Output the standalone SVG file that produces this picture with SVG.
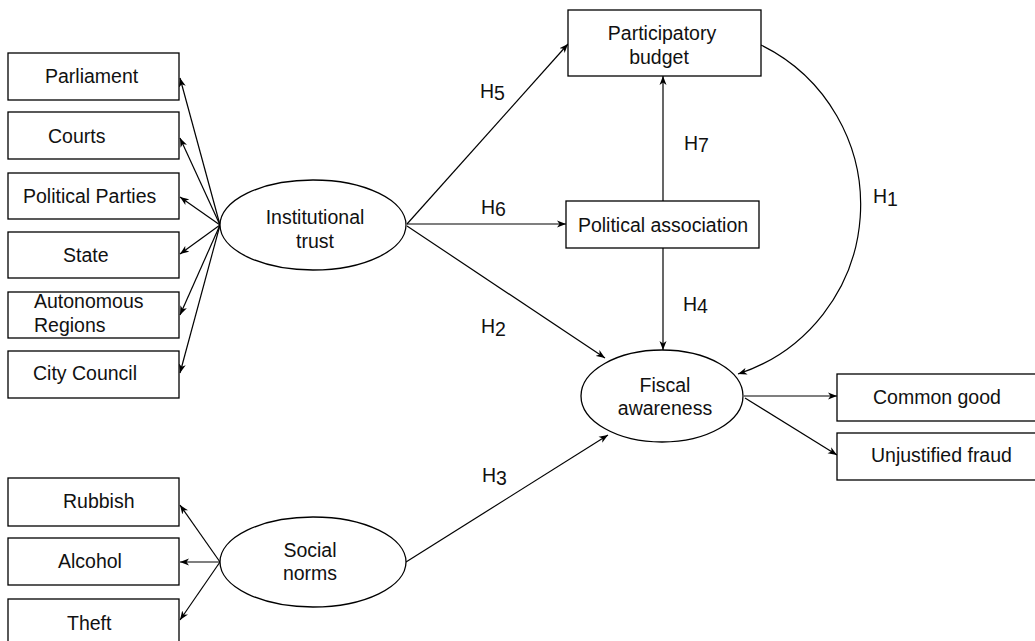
<svg xmlns="http://www.w3.org/2000/svg" width="1035" height="641" viewBox="0 0 1035 641">
<style>
  .box{fill:#fff;stroke:#000;stroke-width:1.3}
  .ell{fill:#fff;stroke:#000;stroke-width:1.3}
  .t{font-family:"Liberation Sans",Arial,Helvetica,sans-serif;font-size:19.5px;fill:#111}
  .c{text-anchor:middle}
  .e{fill:none;stroke:#000;stroke-width:1.2;marker-end:url(#arr)}
</style>
<defs>
  <marker id="arr" markerUnits="userSpaceOnUse" markerWidth="10" markerHeight="8" viewBox="0 0 10 8" refX="9" refY="4" orient="auto">
    <path d="M0,0.5 L9,4 L0,7.5 L2.5,4 z" fill="#000"/>
  </marker>
</defs>
<rect width="1035" height="641" fill="#fff"/>
<g id="connectors">
  <line class="e" x1="220" y1="225" x2="180" y2="78"/>
  <line class="e" x1="220" y1="225" x2="180" y2="138"/>
  <line class="e" x1="220" y1="225" x2="180" y2="197"/>
  <line class="e" x1="220" y1="225" x2="180" y2="254"/>
  <line class="e" x1="220" y1="225" x2="180" y2="315"/>
  <line class="e" x1="220" y1="225" x2="180" y2="373"/>
  <line class="e" x1="220" y1="562" x2="180" y2="505"/>
  <line class="e" x1="220" y1="562" x2="180" y2="562"/>
  <line class="e" x1="220" y1="562" x2="180" y2="620"/>
  <line class="e" x1="407" y1="224" x2="568" y2="44"/>
  <line class="e" x1="407" y1="224" x2="566" y2="224"/>
  <line class="e" x1="407" y1="226" x2="605" y2="358"/>
  <line class="e" x1="406" y1="562" x2="608" y2="435"/>
  <line class="e" x1="663" y1="201" x2="663" y2="76"/>
  <line class="e" x1="663" y1="248" x2="663" y2="350"/>
  <path class="e" d="M761,45 A178,178 0 0 1 738,374"/>
  <line class="e" x1="744" y1="396" x2="837" y2="396"/>
  <line class="e" x1="745" y1="398" x2="837" y2="455"/>
  <text class="t" x="480" y="98">H<tspan dy="2">5</tspan></text>
  <text class="t" x="481" y="214">H<tspan dy="2">6</tspan></text>
  <text class="t" x="481" y="333">H<tspan dy="3">2</tspan></text>
  <text class="t" x="482" y="482">H<tspan dy="3">3</tspan></text>
  <text class="t" x="684" y="150">H<tspan dy="2">7</tspan></text>
  <text class="t" x="683" y="311">H<tspan dy="2">4</tspan></text>
  <text class="t" x="873" y="203">H<tspan dy="3">1</tspan></text>
</g>
<g id="parliament"><rect class="box" x="8" y="53" width="171" height="47"/><text class="t" x="45" y="83">Parliament</text></g>
<g id="courts"><rect class="box" x="8" y="112" width="171" height="47"/><text class="t" x="48" y="143">Courts</text></g>
<g id="political-parties"><rect class="box" x="8" y="173" width="171" height="46"/><text class="t" x="23" y="203">Political Parties</text></g>
<g id="state"><rect class="box" x="8" y="232" width="171" height="46"/><text class="t" x="63" y="262">State</text></g>
<g id="autonomous-regions"><rect class="box" x="8" y="292" width="171" height="46"/><text class="t" x="34" y="308">Autonomous</text><text class="t" x="34" y="332">Regions</text></g>
<g id="city-council"><rect class="box" x="8" y="351" width="171" height="47"/><text class="t" x="33" y="380">City Council</text></g>
<g id="institutional-trust"><ellipse class="ell" cx="313" cy="225" rx="93" ry="45"/><text class="t c" x="315" y="224">Institutional</text><text class="t c" x="315" y="248">trust</text></g>
<g id="rubbish"><rect class="box" x="8" y="478" width="171" height="48"/><text class="t" x="63" y="508">Rubbish</text></g>
<g id="alcohol"><rect class="box" x="8" y="538" width="171" height="47"/><text class="t" x="58" y="568">Alcohol</text></g>
<g id="theft"><rect class="box" x="8" y="599" width="171" height="48"/><text class="t" x="67" y="630">Theft</text></g>
<g id="social-norms"><ellipse class="ell" cx="313" cy="562" rx="93" ry="45"/><text class="t c" x="310" y="557">Social</text><text class="t c" x="310" y="580">norms</text></g>
<g id="participatory-budget"><rect class="box" x="568" y="10" width="193" height="66"/><text class="t c" x="662" y="40">Participatory</text><text class="t c" x="659" y="64">budget</text></g>
<g id="political-association"><rect class="box" x="566" y="201" width="193" height="47"/><text class="t c" x="663" y="232">Political association</text></g>
<g id="fiscal-awareness"><ellipse class="ell" cx="662" cy="396" rx="81" ry="46"/><text class="t c" x="665" y="392">Fiscal</text><text class="t c" x="665" y="415">awareness</text></g>
<g id="common-good"><rect class="box" x="837" y="374" width="205" height="47"/><text class="t" x="873" y="404">Common good</text></g>
<g id="unjustified-fraud"><rect class="box" x="837" y="433" width="205" height="47"/><text class="t" x="871" y="462">Unjustified fraud</text></g>
</svg>
